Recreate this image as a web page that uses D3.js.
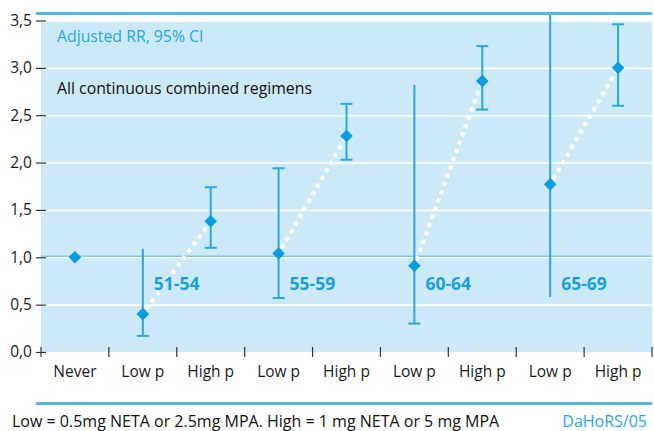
<!DOCTYPE html>
<html>
<head>
<meta charset="utf-8">
<script src="https://cdn.jsdelivr.net/npm/d3@7"></script>
<style>
  html, body { margin: 0; padding: 0; background: #fff; }
  svg { display: block; font-family: "Open Sans", sans-serif; }
</style>
</head>
<body>
<svg id="chart" width="654" height="431"></svg>
<script>
// ---- data ----
const categories = ["Never", "Low p", "High p", "Low p", "High p", "Low p", "High p", "Low p", "High p"];
const ageGroups = ["", "51-54", "51-54", "55-59", "55-59", "60-64", "60-64", "65-69", "65-69"];
const rr      = [1.00, 0.40, 1.38, 1.04, 2.28, 0.91, 2.86, 1.77, 3.00];
const ciLow   = [null, 0.17, 1.10, 0.57, 2.03, 0.30, 2.56, 0.58, 2.60];
const ciHigh  = [null, 1.09, 1.74, 1.94, 2.62, 2.82, 3.23, 3.58, 3.46];
const capLow  = [false, true, true, true, true, true, true, false, true];
const capHigh = [false, false, true, true, true, false, true, false, true];
const yTicks = [0, 0.5, 1.0, 1.5, 2.0, 2.5, 3.0, 3.5];
const groupLabels = ["51-54", "55-59", "60-64", "65-69"];
const titleText = "Adjusted RR, 95% CI";
const subtitleText = "All continuous combined regimens";
const footnoteText = "Low = 0.5mg NETA or 2.5mg MPA. High = 1 mg NETA or 5 mg MPA";
const sourceText = "DaHoRS/05";

// ---- styles ----
const bg = "#cbe9f7";
const markColor = "#0a9ce0";
const barColor = "#27a8e2";
const accent = "#52b9e7";
const titleBlue = "#27a7e0";

const svg = d3.select("#chart");
const pL = 41, pR = 652, pT = 20.5, pB = 352;

const x = d3.scaleBand().domain(d3.range(categories.length)).range([pL, pR]).padding(0);
const y = d3.scaleLinear().domain([0, 3.5]).range([pB, pT]);

// background
svg.append("rect").attr("x", pL).attr("y", pT).attr("width", pR - pL).attr("height", pB - pT).attr("fill", bg);

// gridlines
svg.append("g").selectAll("line").data(yTicks.filter(d => d > 0)).join("line")
  .attr("x1", pL).attr("x2", pR)
  .attr("y1", d => y(d) + 0.5).attr("y2", d => y(d) + 0.5)
  .attr("stroke", "#fff").attr("stroke-width", 1.6);

// reference line at 1.0
svg.append("line").attr("x1", pL).attr("x2", pR)
  .attr("y1", y(1) - 1).attr("y2", y(1) - 1)
  .attr("stroke", "#7fcbef").attr("stroke-width", 1.6);

// y axis
const yAxis = svg.append("g").attr("transform", `translate(${pL},0)`)
  .call(d3.axisLeft(y).tickValues(yTicks).tickSize(5).tickPadding(4)
    .tickFormat(d => d3.format(".1f")(d).replace(".", ",")));
yAxis.select(".domain").remove();
yAxis.selectAll(".tick line").attr("x1", 5).attr("stroke", "#333").attr("stroke-width", 1.2);
yAxis.selectAll(".tick text").attr("font-size", 15.5).attr("fill", "#1a1a1a").attr("font-family", "Open Sans");

// x axis labels
const xAxis = svg.append("g").attr("transform", `translate(0,${pB})`)
  .call(d3.axisBottom(x).tickSize(0).tickPadding(14).tickFormat(i => categories[i]));
xAxis.select(".domain").remove();
xAxis.selectAll(".tick text").attr("font-size", 15.5).attr("fill", "#1a1a1a").attr("font-family", "Open Sans");

// x boundary ticks
const bounds = d3.range(categories.length).map(i => x(i)).concat([x.range()[1]]);
svg.append("g").selectAll("line").data(bounds).join("line")
  .attr("x1", d => d).attr("x2", d => d)
  .attr("y1", pB - 5).attr("y2", pB + 5)
  .attr("stroke", "#333").attr("stroke-width", 1.2);

const cx = i => x(i) + x.bandwidth() / 2;

// dotted connectors
for (let g = 0; g < groupLabels.length; g++) {
  const a = 1 + g * 2, b = a + 1;
  svg.append("line")
    .attr("x1", cx(a)).attr("y1", y(rr[a]))
    .attr("x2", cx(b)).attr("y2", y(rr[b]))
    .attr("stroke", "#fff").attr("stroke-width", 4.2)
    .attr("stroke-dasharray", "4.2,4.6").attr("stroke-dashoffset", -6);
}

// error bars
const idx = d3.range(categories.length).filter(i => ciLow[i] !== null);
const eb = svg.append("g");
eb.selectAll("line.v").data(idx).join("line").attr("class", "v")
  .attr("x1", cx).attr("x2", cx)
  .attr("y1", i => y(ciLow[i])).attr("y2", i => y(ciHigh[i]))
  .attr("stroke", barColor).attr("stroke-width", 2);
eb.selectAll("line.cl").data(idx.filter(i => capLow[i])).join("line").attr("class", "cl")
  .attr("x1", i => cx(i) - 6).attr("x2", i => cx(i) + 6)
  .attr("y1", i => y(ciLow[i])).attr("y2", i => y(ciLow[i]))
  .attr("stroke", barColor).attr("stroke-width", 2);
eb.selectAll("line.ch").data(idx.filter(i => capHigh[i])).join("line").attr("class", "ch")
  .attr("x1", i => cx(i) - 6).attr("x2", i => cx(i) + 6)
  .attr("y1", i => y(ciHigh[i])).attr("y2", i => y(ciHigh[i]))
  .attr("stroke", barColor).attr("stroke-width", 2);

// diamonds
svg.append("g").selectAll("path").data(d3.range(categories.length)).join("path")
  .attr("transform", i => `translate(${cx(i)},${y(rr[i])})`)
  .attr("d", "M0,-6.3L6.3,0L0,6.3L-6.3,0Z")
  .attr("fill", markColor);

// group labels
svg.append("g").selectAll("text").data(groupLabels).join("text")
  .attr("x", (d, g) => cx(1 + g * 2) + 11)
  .attr("y", 290)
  .attr("font-size", 17.5).attr("font-weight", "bold").attr("fill", "#1a9fdc")
  .text(d => d);

// top and bottom accent lines
svg.append("line").attr("x1", 36).attr("x2", pR).attr("y1", 13.5).attr("y2", 13.5)
  .attr("stroke", accent).attr("stroke-width", 3);
svg.append("line").attr("x1", 36).attr("x2", pR).attr("y1", 403.5).attr("y2", 403.5)
  .attr("stroke", accent).attr("stroke-width", 3);

// titles
svg.append("text").attr("x", 57).attr("y", 42).attr("font-size", 15.8).attr("fill", titleBlue).text(titleText);
svg.append("text").attr("x", 57).attr("y", 93.5).attr("font-size", 15.8).attr("fill", "#111").text(subtitleText);

// footnotes
svg.append("text").attr("x", 12).attr("y", 427).attr("font-size", 16).attr("fill", "#111").text(footnoteText);
svg.append("text").attr("x", 647).attr("y", 427).attr("font-size", 16).attr("text-anchor", "end").attr("fill", titleBlue).text(sourceText);
</script>
</body>
</html>
